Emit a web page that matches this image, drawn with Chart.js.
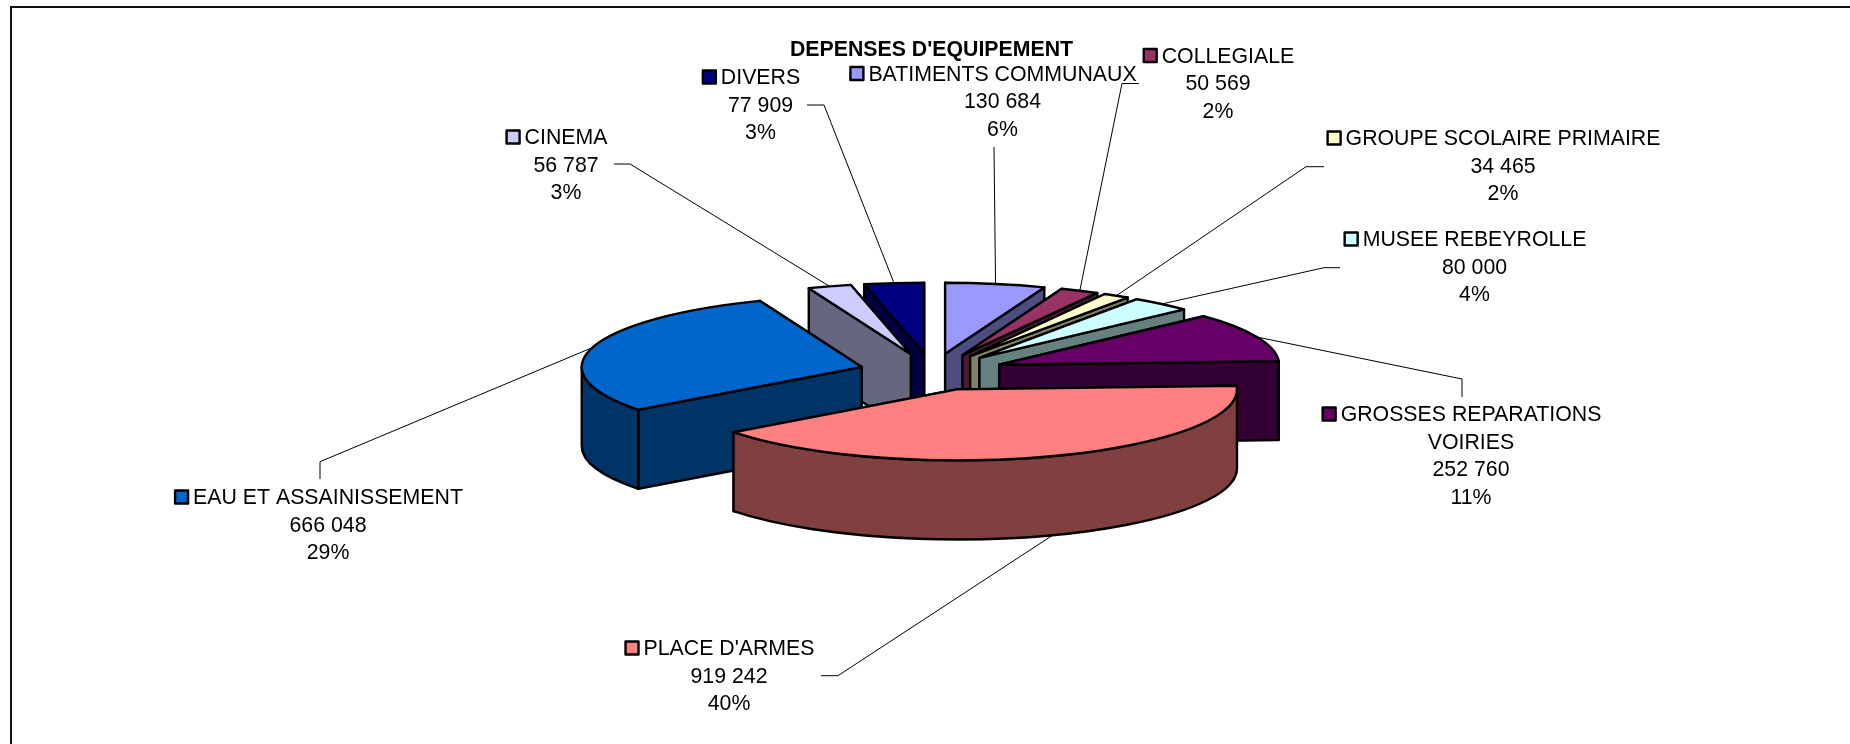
<!DOCTYPE html>
<html>
<head>
<meta charset="utf-8">
<script src="https://cdn.jsdelivr.net/npm/chart.js@4"></script>
<style>
  html, body { margin: 0; background: #fff; overflow: hidden; }
  #frame { position: absolute; left: 10px; top: 6px; width: 1840px; height: 738px; border-left: 2px solid #111; border-top: 2px solid #111; box-sizing: border-box; }
  canvas { position: absolute; left: 0; top: 0; }
</style>
</head>
<body>
<div id="frame"></div>
<canvas id="pie" width="1850" height="744"></canvas>
<script>
// data (clockwise from 12 o'clock)
const categories = ['BATIMENTS COMMUNAUX', 'COLLEGIALE', 'GROUPE SCOLAIRE PRIMAIRE', 'MUSEE REBEYROLLE',
  'GROSSES REPARATIONS VOIRIES', "PLACE D'ARMES", 'EAU ET ASSAINISSEMENT', 'CINEMA', 'DIVERS'];
const values = [130684, 50569, 34465, 80000, 252760, 919242, 666048, 56787, 77909];
const valueLabels = ['130 684', '50 569', '34 465', '80 000', '252 760', '919 242', '666 048', '56 787', '77 909'];
const percentLabels = ['6%', '2%', '2%', '4%', '11%', '40%', '29%', '3%', '3%'];
const chartTitle = "DEPENSES D'EQUIPEMENT";

const topColors = ['#9999FF', '#993366', '#FFFFCC', '#CCFFFF', '#660066', '#FF8080', '#0066CC', '#CCCCFF', '#000080'];
const wallColors = ['#4D4D80', '#4D1A33', '#808066', '#668080', '#330033', '#804040', '#003366', '#666680', '#000040'];

// label placement: centre x and y of the first line
const labelPos = [[1002.5, 75], [1218, 57], [1503, 139.5], [1474.5, 240.5], [1471, 415.5], [729, 649.5], [328, 498.5], [566, 138.5], [760.5, 78.5]];
// name wrapped over two lines for this one
const nameLines = { 4: ['GROSSES REPARATIONS', 'VOIRIES'] };
// this name sits off the centre of its block
const nameShift = { 1: 10 };
// leader line, from the label side; the last point is the slice edge
const leaderStubs = [
  [[994, 147]],
  [[1139, 83.5], [1122, 83.5]],
  [[1324, 166.7], [1306, 166.7]],
  [[1340, 267.7], [1324, 267.7]],
  [[1462, 397], [1462, 379]],
  [[821, 675.7], [838, 675.7]],
  [[320, 479], [320, 461.7]],
  [[614, 164], [630, 164]],
  [[807, 105], [824, 105]]
];

const FONT = '"Liberation Sans", Arial, sans-serif';
const FONT_SIZE = 21.3;
const LINE_H = 27.4;
const PEN = 2.4;
const SQUASH = 0.2536;   // tilt of the pie
const DEPTH = 79;        // height of the pie
const CENTER_Y = 372;
const EXPLODE = 73;      // every slice is pulled out by this much

// apex of a slice on screen
function apex(arc) {
  const mid = (arc.startAngle + arc.endAngle) / 2;
  return {
    x: arc.x + Math.cos(mid) * EXPLODE,
    y: CENTER_Y + Math.sin(mid) * EXPLODE * SQUASH
  };
}

function drawWalls(ctx, arc, color) {
  const c = apex(arc);
  const r = arc.outerRadius;
  const px = a => c.x + Math.cos(a) * r;
  const py = a => c.y + Math.sin(a) * r * SQUASH;
  ctx.fillStyle = color;
  ctx.strokeStyle = '#000';
  ctx.lineWidth = PEN;
  ctx.lineJoin = 'round';

  // radial faces, back one first
  const edges = [arc.startAngle, arc.endAngle].sort((a, b) => Math.sin(a) - Math.sin(b));
  edges.forEach(a => {
    ctx.beginPath();
    ctx.moveTo(c.x, c.y);
    ctx.lineTo(px(a), py(a));
    ctx.lineTo(px(a), py(a) + DEPTH);
    ctx.lineTo(c.x, c.y + DEPTH);
    ctx.closePath();
    ctx.fill();
    ctx.stroke();
  });

  // outer face, only the part that looks to the front
  const from = Math.max(arc.startAngle, 0);
  const to = Math.min(arc.endAngle, Math.PI);
  if (to > from) {
    ctx.beginPath();
    ctx.ellipse(c.x, c.y, r, r * SQUASH, 0, from, to);
    ctx.lineTo(px(to), py(to) + DEPTH);
    ctx.ellipse(c.x, c.y + DEPTH, r, r * SQUASH, 0, to, from, true);
    ctx.closePath();
    ctx.fill();
    ctx.stroke();
  }
}

function drawTop(ctx, arc) {
  const mid = (arc.startAngle + arc.endAngle) / 2;
  // fill through the library under the tilt
  ctx.save();
  ctx.translate(0, CENTER_Y);
  ctx.scale(1, SQUASH);
  ctx.translate(Math.cos(mid) * EXPLODE, Math.sin(mid) * EXPLODE - arc.y);
  arc.draw(ctx);
  ctx.restore();
  // outline outside the tilt so the pen stays even
  const c = apex(arc);
  ctx.beginPath();
  ctx.moveTo(c.x, c.y);
  ctx.ellipse(c.x, c.y, arc.outerRadius, arc.outerRadius * SQUASH, 0, arc.startAngle, arc.endAngle);
  ctx.closePath();
  ctx.strokeStyle = '#000';
  ctx.lineWidth = PEN;
  ctx.stroke();
}

function drawLeaders(ctx, arcs) {
  ctx.strokeStyle = '#000';
  ctx.lineWidth = 1;
  arcs.forEach((arc, i) => {
    const mid = (arc.startAngle + arc.endAngle) / 2;
    const c = apex(arc);
    const ex = c.x + Math.cos(mid) * arc.outerRadius;
    let ey = c.y + Math.sin(mid) * arc.outerRadius * SQUASH;
    if (Math.sin(mid) > 0) ey += DEPTH;
    ctx.beginPath();
    leaderStubs[i].forEach((p, j) => j ? ctx.lineTo(p[0], p[1]) : ctx.moveTo(p[0], p[1]));
    ctx.lineTo(ex, ey);
    ctx.stroke();
  });
}

function drawLabels(ctx) {
  ctx.textAlign = 'center';
  ctx.textBaseline = 'middle';
  ctx.fillStyle = '#000';
  ctx.font = 'bold ' + FONT_SIZE + 'px ' + FONT;
  ctx.fillText(chartTitle, 931.5, 50.5);

  ctx.font = FONT_SIZE + 'px ' + FONT;
  categories.forEach((name, i) => {
    const [cx, y0] = labelPos[i];
    const lines = (nameLines[i] || [name]).concat(valueLabels[i], percentLabels[i]);
    const nx = cx + (nameShift[i] || 0);
    lines.forEach((t, j) => ctx.fillText(t, j ? cx : nx, y0 + j * LINE_H));
    // legend key
    const w = ctx.measureText(lines[0]).width;
    ctx.fillStyle = topColors[i];
    ctx.strokeStyle = '#000';
    ctx.lineWidth = PEN;
    ctx.fillRect(nx - w / 2 - 18, y0 - 8, 13, 13);
    ctx.strokeRect(nx - w / 2 - 18, y0 - 8, 13, 13);
    ctx.fillStyle = '#000';
  });
}

const pie3d = {
  id: 'pie3d',
  beforeDatasetsDraw(chart) {
    const ctx = chart.ctx;
    const arcs = chart.getDatasetMeta(0).data;
    drawLeaders(ctx, arcs);
    // back to front
    const order = arcs.map((a, i) => i).sort((p, q) =>
      Math.sin((arcs[p].startAngle + arcs[p].endAngle) / 2) - Math.sin((arcs[q].startAngle + arcs[q].endAngle) / 2));
    order.forEach(i => {
      drawWalls(ctx, arcs[i], wallColors[i]);
      drawTop(ctx, arcs[i]);
    });
    drawLabels(ctx);
    return false;
  }
};

new Chart(document.getElementById('pie'), {
  type: 'pie',
  data: {
    labels: categories,
    datasets: [{
      data: values,
      backgroundColor: topColors,
      borderWidth: 0,
      radius: 280
    }]
  },
  plugins: [pie3d],
  options: {
    responsive: false,
    animation: false,
    layout: { padding: { left: 14 } },
    plugins: { legend: { display: false }, tooltip: { enabled: false }, title: { display: false } }
  }
});
</script>
</body>
</html>
